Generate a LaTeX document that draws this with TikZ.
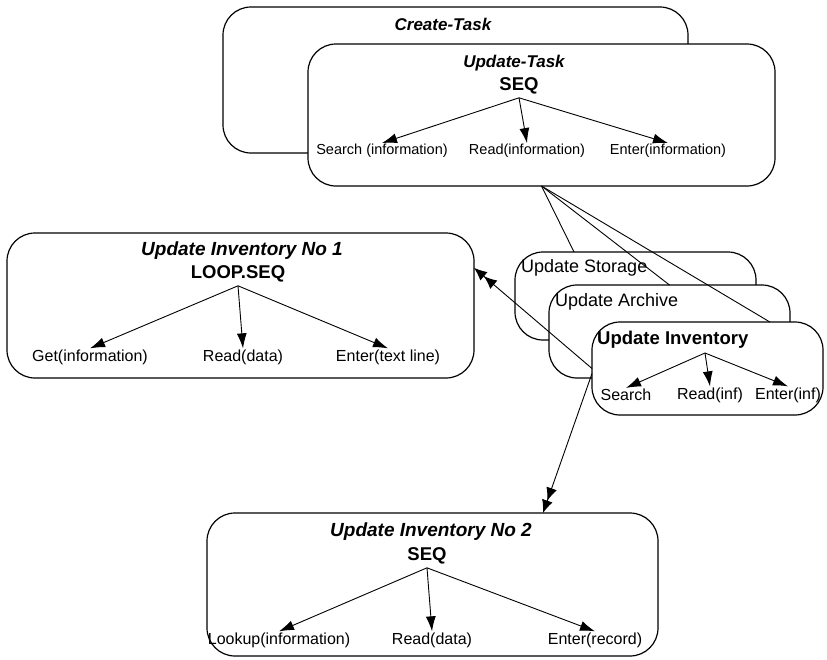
\documentclass[tikz,border=0pt]{standalone}
\usepackage{fontspec}
\setmainfont{Liberation Sans}
\usetikzlibrary{arrows.meta,calc}

\tikzset{
  box/.style={draw, line width=1.2pt, fill=white, rounded corners=28pt, anchor=north west, inner sep=0pt, outer sep=0pt},
  ttl/.style={font=\fontsize{17}{17}\selectfont\bfseries\itshape},
  bigttl/.style={font=\fontsize{19}{19}\selectfont\bfseries\itshape},
  opname/.style={font=\fontsize{18.5}{19}\selectfont\bfseries},
  stackname/.style={font=\fontsize{18}{18}\selectfont, anchor=west, inner sep=0pt},
  leaf/.style={font=\fontsize{16}{16}\selectfont, inner sep=1pt},
  smallleaf/.style={font=\fontsize{14.5}{15}\selectfont, inner sep=1pt},
  treearrow/.style={line width=0.9pt, -{Latex[length=15pt,width=10pt]}},
  stacklink/.style={line width=0.9pt},
  jumparrow/.style={line width=0.9pt, -{Latex[length=13pt,width=11pt]Latex[length=13pt,width=11pt]}}
}

\begin{document}
\begin{tikzpicture}[x=1pt,y=-1pt]
\useasboundingbox (0,0) rectangle (827,659);

\node [box, minimum width=465pt, minimum height=146pt] (create) at (223,7) {};
\node [ttl] (create-t) at (443,24) {Create-Task};

\node [box, minimum width=467pt, minimum height=142pt] (update) at (308,44) {};
\node [ttl] (update-t) at (514,63) {Update-Task};
\node [opname] (update-op) at (519,86) {SEQ};
\node [smallleaf] (update-a) at (382,151) {Search (information)};
\node [smallleaf] (update-b) at (527,151) {Read(information)};
\node [smallleaf] (update-c) at (668,151) {Enter(information)};
\draw [treearrow] (update-op.south) -- (update-a.north);
\draw [treearrow] (update-op.south) -- (update-b.north);
\draw [treearrow] (update-op.south) -- (update-c.north);

\node [box, minimum width=241pt, minimum height=88pt] (storage) at (515,252) {};
\node [stackname] (storage-t) at (521,268) {Update Storage};
\node [box, minimum width=241pt, minimum height=93pt] (archive) at (549,285) {};
\node [stackname] (archive-t) at (555,302) {Update Archive};
\node [box, minimum width=231pt, minimum height=93pt] (inventory) at (592,322) {};
\node [stackname, font=\fontsize{18.5}{19}\selectfont\bfseries] (inventory-t) at (597,340) {Update Inventory};
\coordinate (inventory-op) at (705,353);
\node [leaf] (inventory-a) at (626,395) {Search};
\node [leaf] (inventory-b) at (710,395) {Read(inf)};
\node [leaf] (inventory-c) at (788,395) {Enter(inf)};
\draw [treearrow] (inventory-op) -- (inventory-a.north);
\draw [treearrow] (inventory-op) -- (inventory-b.north);
\draw [treearrow] (inventory-op) -- (inventory-c.north);

\draw [stacklink] (update.south) -- ($(storage.north west)!0.245!(storage.north east)$);
\draw [stacklink] (update.south) -- (archive.north);
\draw [stacklink] (update.south) -- ($(inventory.north west)!0.77!(inventory.north east)$);

\node [box, minimum width=467pt, minimum height=145pt] (no1) at (7,233) {};
\node [bigttl] (no1-t) at (242,251) {Update Inventory No 1};
\node [opname] (no1-op) at (238,274) {LOOP.SEQ};
\node [leaf] (no1-a) at (90,357) {Get(information)};
\node [leaf] (no1-b) at (243,357) {Read(data)};
\node [leaf] (no1-c) at (388,357) {Enter(text line)};
\draw [treearrow] (no1-op.south) -- (no1-a.north);
\draw [treearrow] (no1-op.south) -- (no1-b.north);
\draw [treearrow] (no1-op.south) -- (no1-c.north);

\node [box, minimum width=451pt, minimum height=143pt] (no2) at (207,513) {};
\node [bigttl] (no2-t) at (431,532) {Update Inventory No 2};
\node [opname] (no2-op) at (427,556) {SEQ};
\node [leaf] (no2-a) at (279,640) {Lookup(information)};
\node [leaf] (no2-b) at (432,640) {Read(data)};
\node [leaf] (no2-c) at (595,640) {Enter(record)};
\draw [treearrow] (no2-op.south) -- (no2-a.north);
\draw [treearrow] (no2-op.south) -- (no2-b.north);
\draw [treearrow] (no2-op.south) -- (no2-c.north);

\draw [jumparrow] (inventory.west) -- ($(no1.north east)!0.24!(no1.south east)$);
\draw [jumparrow] ([yshift=-5pt]inventory.west) -- ($(no2.north west)!0.745!(no2.north east)$);

\end{tikzpicture}
\end{document}
